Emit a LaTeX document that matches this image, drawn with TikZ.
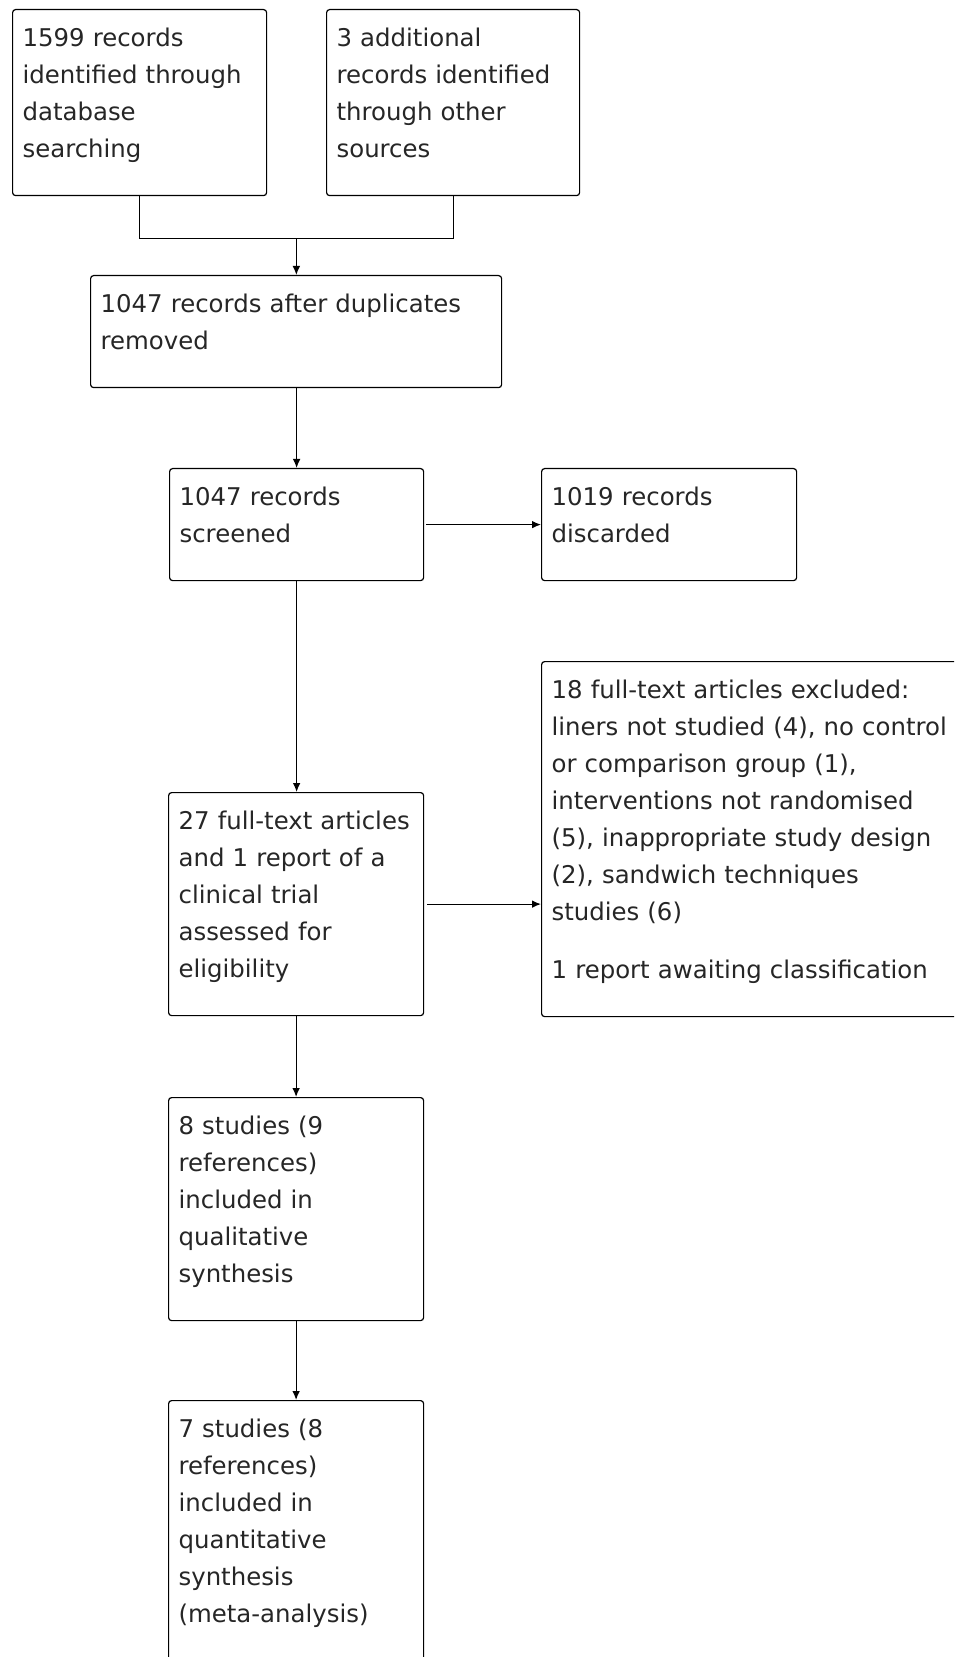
\documentclass[tikz,border=0pt]{standalone}
\usepackage{fontspec}
\setmainfont{DejaVu Sans}
\usepackage{tikz}
\usetikzlibrary{arrows.meta,calc}

\newcommand{\topgap}{\rule{0pt}{18.5pt}}
\newcommand{\bottomgap}{\rule[-19pt]{0pt}{19pt}}

\tikzset{
  box/.style={draw, line width=0.6pt, rounded corners=1.5pt, anchor=north west,
    align=left, inner xsep=5pt, inner ysep=0pt,
    font=\fontsize{12.2}{18.5}\selectfont, text=black!85,
    execute at begin node=\topgap, execute at end node=\bottomgap},
  arr/.style={-{Latex[length=4.5pt,width=3.8pt]}, line width=0.6pt}
}

\begin{document}
\begin{tikzpicture}[x=0.5pt,y=-0.5pt]

\useasboundingbox (0,0) rectangle (954,1657);
\fill[white] (0,0) rectangle (954,1657);
\clip (0,0) rectangle (954,1657);

\node[box, text width=117pt] (ident) at (12,9)
  {1599 records\\identified through\\database\\searching};
\node[box, text width=116.5pt] (other) at (326,9)
  {3 additional\\records identified\\through other\\sources};
\node[box, text width=195.5pt] (dedup) at (90,275)
  {1047 records after duplicates\\removed};
\node[box, text width=117pt] (screen) at (169,468)
  {1047 records\\screened};
\node[box, text width=117.5pt] (discard) at (541,468)
  {1019 records\\discarded};
\node[box, text width=225pt] (exclude) at (541,661)
  {18 full-text articles excluded:\\liners not studied (4), no control\\or comparison group (1),\\interventions not randomised\\(5), inappropriate study design\\(2), sandwich techniques\\studies (6)\\[10.5pt]1 report awaiting classification};
\node[box, text width=117.5pt] (elig) at (168,792)
  {27 full-text articles\\and 1 report of a\\clinical trial\\assessed for\\eligibility};
\node[box, text width=117.5pt] (qual) at (168,1097)
  {8 studies (9\\references)\\included in\\qualitative\\synthesis};
\node[box, text width=117.5pt] (quant) at (168,1400)
  {7 studies (8\\references)\\included in\\quantitative\\synthesis\\(meta-analysis)};

% merge the two sources
\draw[line width=0.6pt] (ident.south) -- ++(0,42) coordinate (jl) -| (other.south);
\coordinate (join) at ($(ident.south |- jl)!0.5!(other.south |- jl)$);
\draw[arr] (join) -- (join |- dedup.north);

\draw[arr] (screen.north |- dedup.south) -- (screen.north);
\draw[arr, shorten <=1pt] (screen) -- (discard);
\draw[arr] (screen.south) -- (screen.south |- elig.north);
\draw[arr, shorten <=1.5pt] (elig.east) -- (elig.east -| exclude.west);
\draw[arr] (elig.south) -- (qual.north);
\draw[arr] (qual.south) -- (quant.north);

\end{tikzpicture}
\end{document}
